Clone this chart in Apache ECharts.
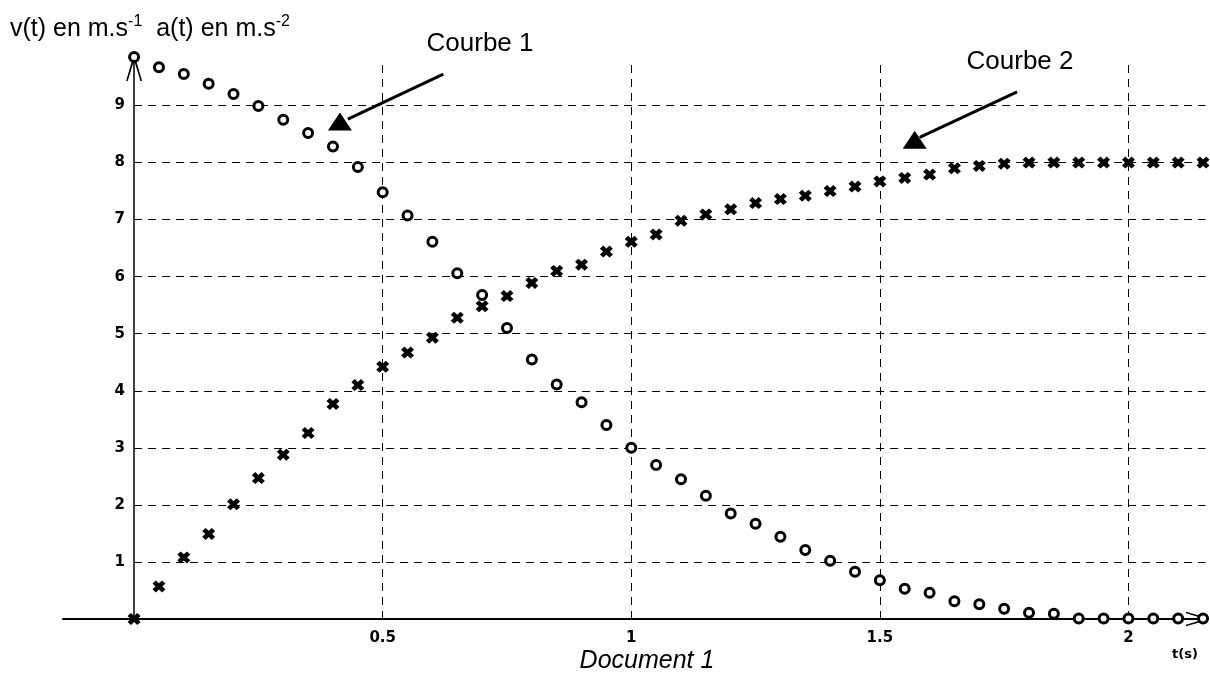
<!DOCTYPE html>
<html>
<head>
<meta charset="utf-8">
<title>Document 1</title>
<script src="https://cdn.jsdelivr.net/npm/echarts@6/dist/echarts.min.js"></script>
<style>
  html, body { margin: 0; padding: 0; background: #fff; }
  #doc1 { width: 1210px; height: 685px; }
</style>
</head>
<body>
<div id="doc1"></div>
<script>
// t in s, one point every 0.05 s
const times = [0, 0.05, 0.1, 0.15, 0.2, 0.25, 0.3, 0.35, 0.4, 0.45,
  0.5, 0.55, 0.6, 0.65, 0.7, 0.75, 0.8, 0.85, 0.9, 0.95,
  1, 1.05, 1.1, 1.15, 1.2, 1.25, 1.3, 1.35, 1.4, 1.45,
  1.5, 1.55, 1.6, 1.65, 1.7, 1.75, 1.8, 1.85, 1.9, 1.95,
  2, 2.05, 2.1, 2.15]

// Courbe 1 : a(t) en m.s-2 (cercles)
const accel = [9.85, 9.67, 9.55, 9.38, 9.2, 8.99, 8.75, 8.52, 8.28, 7.92,
  7.48, 7.07, 6.61, 6.06, 5.68, 5.1, 4.55, 4.11, 3.8, 3.4,
  3.0, 2.7, 2.45, 2.16, 1.85, 1.67, 1.44, 1.21, 1.02, 0.83,
  0.68, 0.53, 0.46, 0.31, 0.26, 0.18, 0.11, 0.09, 0.01, 0.01,
  0.01, 0.01, 0.01, 0.01]

// Courbe 2 : v(t) en m.s-1 (croix)
const speed = [0, 0.57, 1.08, 1.49, 2.01, 2.47, 2.88, 3.26, 3.77, 4.1,
  4.42, 4.67, 4.93, 5.28, 5.48, 5.66, 5.89, 6.1, 6.21, 6.44,
  6.61, 6.74, 6.98, 7.09, 7.18, 7.29, 7.36, 7.42, 7.5, 7.58,
  7.67, 7.73, 7.79, 7.9, 7.94, 7.98, 8, 8, 8, 8,
  8, 8, 8, 8]

const xTicks = [0.5, 1, 1.5, 2]
const yTicks = [1, 2, 3, 4, 5, 6, 7, 8, 9]

const X_MIN = -0.143
const X_MAX = 2.16
const Y_MAX = 9.85

const crossPath = 'path://M2.6,0 L5,2.4 L7.4,0 L10,2.6 L7.6,5 L10,7.4 L7.4,10 L5,7.6 L2.6,10 L0,7.4 L2.4,5 L0,2.6 Z'
const openArrow = 'path://M0,24 L7,0 L9,0 L16,24 L14.4,24 L8,3.2 L1.6,24 Z'
const labelFont = { color: '#000', fontFamily: 'DejaVu Sans', fontWeight: 'bold', fontSize: 15 }

function pairs(xs, ys) {
  return xs.map((x, i) => [x, ys[i]])
}

// dashed grid, drawn only inside the first quadrant
let gridLines = []
yTicks.forEach(v => {
  gridLines.push([{ coord: [0, v] }, { coord: [2.155, v] }])
})
xTicks.forEach(v => {
  gridLines.push([{ coord: [v, 0] }, { coord: [v, 9.8] }])
})

let chart = echarts.init(document.getElementById('doc1'))
window.addEventListener('resize', () => {
  chart.resize()
})

chart.setOption({
  animation: false,
  backgroundColor: '#fff',
  grid: { left: 63, right: 2, top: 57, bottom: 66 },
  xAxis: {
    type: 'value',
    min: X_MIN,
    max: X_MAX,
    splitLine: { show: false },
    axisTick: { show: false },
    axisLine: {
      onZero: true,
      lineStyle: { color: '#000', width: 2 },
      symbol: ['none', openArrow],
      symbolSize: [22, 22],
      symbolOffset: [0, -11]
    },
    axisLabel: Object.assign({
      customValues: xTicks,
      margin: 12,
      formatter: v => String(v)
    }, labelFont)
  },
  yAxis: {
    type: 'value',
    min: 0,
    max: Y_MAX,
    interval: 1,
    splitLine: { show: false },
    axisTick: { show: false },
    axisLine: {
      onZero: true,
      lineStyle: { color: '#000', width: 1.5 },
      symbol: ['none', openArrow],
      symbolSize: [16, 25],
      symbolOffset: [0, -12]
    },
    axisLabel: Object.assign({
      // labels stay at the grid edge, pull them next to the axis at t = 0
      margin: -62,
      showMaxLabel: false,
      formatter: v => (v === 0 ? '' : String(v))
    }, labelFont)
  },
  series: [
    {
      name: 'v(t)',
      type: 'scatter',
      clip: false,
      symbol: crossPath,
      symbolSize: [13, 12],
      itemStyle: { color: '#000', opacity: 1 },
      data: pairs(times, speed),
      markLine: {
        silent: true,
        z: 1,
        symbol: ['none', 'none'],
        label: { show: false },
        lineStyle: { color: '#000', width: 1, type: [8, 6], opacity: 1 },
        data: gridLines
      }
    },
    {
      name: 'a(t)',
      type: 'scatter',
      clip: false,
      symbol: 'circle',
      symbolSize: 9,
      itemStyle: { color: '#fff', borderColor: '#000', borderWidth: 3, opacity: 1 },
      data: pairs(times, accel),
      markLine: {
        silent: true,
        symbol: ['none', 'none'],
        label: { show: false },
        lineStyle: { color: '#000', width: 3, type: 'solid', opacity: 1 },
        data: [
          [{ coord: [0.622, 9.55] }, { coord: [0.43, 8.76] }],
          [{ coord: [1.776, 9.24] }, { coord: [1.58, 8.44] }]
        ]
      },
      markPoint: {
        silent: true,
        symbol: 'triangle',
        symbolSize: [24, 18],
        itemStyle: { color: '#000', opacity: 1 },
        label: { show: false },
        data: [
          { coord: [0.414, 8.72] },
          { coord: [1.57, 8.4] }
        ]
      }
    }
  ],
  graphic: [
    {
      type: 'text',
      left: 10,
      top: 14,
      style: {
        text: 'v(t) en m.s{sup|-1}  a(t) en m.s{sup|-2}',
        fill: '#000',
        font: '25px "Liberation Sans", Arial, sans-serif',
        lineHeight: 30,
        rich: {
          sup: {
            fontFamily: 'Liberation Sans',
            fontSize: 16,
            lineHeight: 16,
            verticalAlign: 'top',
            fill: '#000'
          }
        }
      }
    },
    {
      type: 'text',
      x: 480,
      y: 44,
      style: {
        text: 'Courbe 1',
        fill: '#000',
        font: '26px "Liberation Sans", Arial, sans-serif',
        textAlign: 'center',
        textVerticalAlign: 'middle',
        align: 'center',
        verticalAlign: 'middle'
      }
    },
    {
      type: 'text',
      x: 1020,
      y: 62,
      style: {
        text: 'Courbe 2',
        fill: '#000',
        font: '26px "Liberation Sans", Arial, sans-serif',
        textAlign: 'center',
        textVerticalAlign: 'middle',
        align: 'center',
        verticalAlign: 'middle'
      }
    },
    {
      type: 'text',
      x: 1185,
      y: 655,
      style: {
        text: 't(s)',
        fill: '#000',
        font: 'bold 13px "DejaVu Sans", sans-serif',
        textAlign: 'center',
        textVerticalAlign: 'middle',
        align: 'center',
        verticalAlign: 'middle'
      }
    },
    {
      type: 'text',
      x: 647,
      y: 661,
      style: {
        text: 'Document 1',
        fill: '#000',
        font: 'italic 25px "Liberation Sans", Arial, sans-serif',
        textAlign: 'center',
        textVerticalAlign: 'middle',
        align: 'center',
        verticalAlign: 'middle'
      }
    }
  ]
})
</script>
</body>
</html>
